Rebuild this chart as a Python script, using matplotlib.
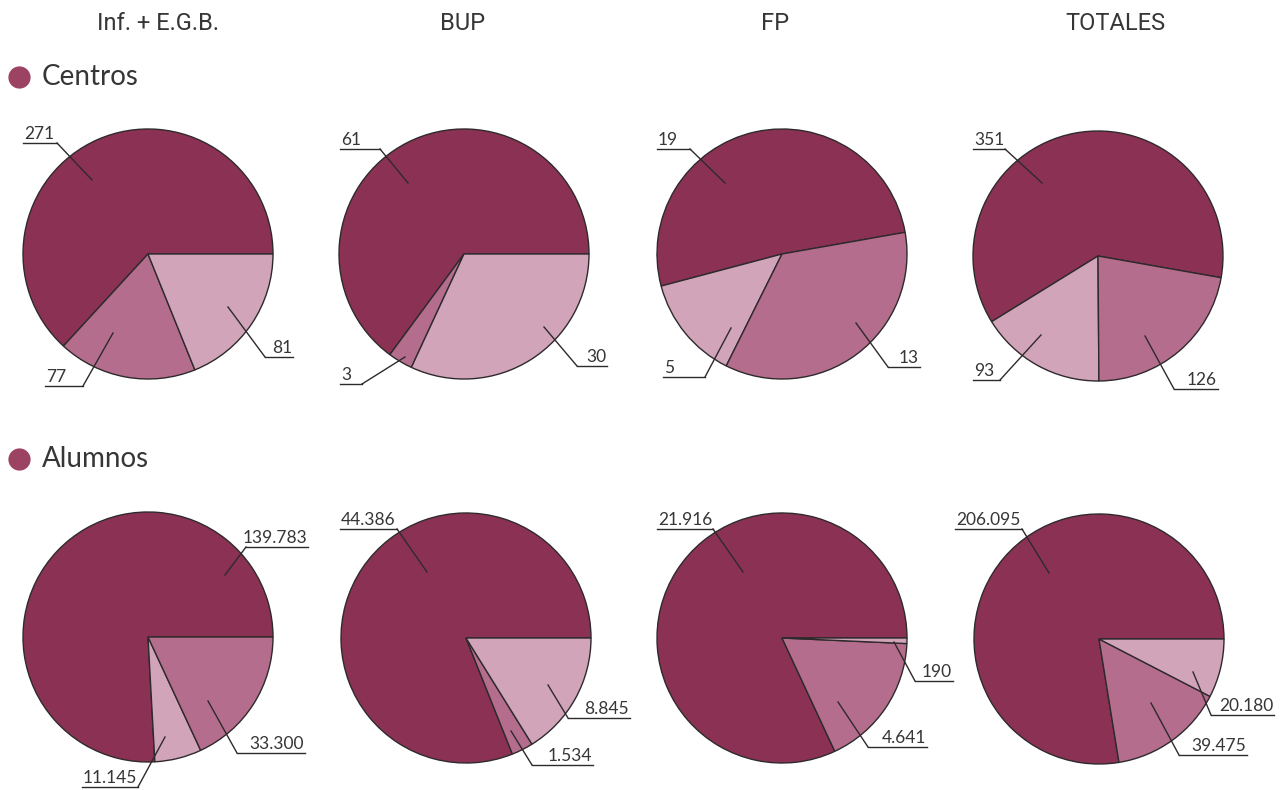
import matplotlib
matplotlib.use('Agg')
import matplotlib.pyplot as plt

# datos (orden de dibujo, sentido antihorario)
headers = ['Inf. + E.G.B.', 'BUP', 'FP', 'TOTALES']
row_names = ['Centros', 'Alumnos']

centros_inf = [271, 77, 81]
centros_bup = [61, 3, 30]
centros_fp = [19, 5, 13]
centros_tot = [351, 93, 126]

alumnos_inf = [139783, 11145, 33300]
alumnos_bup = [44386, 1534, 8845]
alumnos_fp = [21916, 4641, 190]
alumnos_tot = [206095, 39475, 20180]

W, H = 1287, 790
DARK, MED, LIGHT = '#8b3254', '#b46d8c', '#d2a4b9'
EDGE = '#2e2a2c'
TXT = '#363636'

def Y(y):
    return H - y

def fmt(v):
    return f'{v:,}'.replace(',', '.')

# pies: valores, colores, angulo inicial, centro (px), etiquetas
# etiqueta: (x0 subrayado, x1 subrayado, y subrayado, lado del conector, punta)
pies = [
    (centros_inf, [DARK, MED, LIGHT], 0, (148, 254),
     [(23, 57, 143, 'r', (92, 180)), (45, 83, 386, 'r', (113, 333)), (265, 293, 357, 'l', (228, 307))]),
    (centros_bup, [DARK, MED, LIGHT], 0, (464, 254),
     [(340, 380, 149, 'r', (408, 183)), (340, 362, 384, 'r', (405, 357)), (577, 607, 366, 'l', (544, 327))]),
    (centros_fp, [DARK, LIGHT, MED], 10, (782, 254),
     [(657, 690, 149, 'r', (725, 183)), (663, 705, 377, 'r', (731, 328)), (888, 920, 367, 'l', (856, 323))]),
    (centros_tot, [DARK, LIGHT, MED], -10, (1098, 256),
     [(973, 1005, 149, 'r', (1042, 183)), (973, 1000, 380, 'r', (1041, 335)), (1174, 1218, 389, 'l', (1145, 336))]),
    (alumnos_inf, [DARK, LIGHT, MED], 0, (148, 637),
     [(246, 308, 547, 'l', (225, 575)), (82, 138, 787, 'r', (165, 737)), (237, 305, 753, 'l', (208, 701))]),
    (alumnos_bup, [DARK, MED, LIGHT], 0, (466, 638),
     [(340, 397, 529, 'r', (427, 572)), (532, 593, 765, 'l', (511, 731)), (568, 630, 718, 'l', (548, 685))]),
    (alumnos_fp, [DARK, MED, LIGHT], 0, (782, 638),
     [(657, 713, 529, 'r', (743, 572)), (868, 927, 747, 'l', (838, 702)), (915, 953, 681, 'l', (894, 642))]),
    (alumnos_tot, [DARK, MED, LIGHT], 0, (1099, 639),
     [(955, 1022, 529, 'r', (1049, 573)), (1179, 1247, 755, 'l', (1151, 703)), (1211, 1274, 715, 'l', (1193, 672))]),
]

fig = plt.figure(figsize=(W / 100, H / 100), dpi=100)
fig.patch.set_facecolor('white')
ax = fig.add_axes([0, 0, 1, 1])

R = 125
for vals, cols, start, (cx, cy), labs in pies:
    ax.pie(vals, colors=cols, startangle=start, counterclock=True,
           center=(cx, Y(cy)), radius=R,
           wedgeprops=dict(edgecolor=EDGE, linewidth=1.0))
    for v, (x0, x1, uy, side, tip) in zip(vals, labs):
        ax.plot([x0, x1], [Y(uy), Y(uy)], color=EDGE, lw=1.0)
        sx = x1 if side == 'r' else x0
        ax.plot([sx, tip[0]], [Y(uy), Y(tip[1])], color=EDGE, lw=1.0)
        if side == 'r':
            ax.text(x0 + 1, Y(uy - 4), fmt(v), ha='left', va='baseline',
                    fontsize=12.5, color=TXT, family=['Lato', 'DejaVu Sans'])
        else:
            ax.text(x1 - 1, Y(uy - 4), fmt(v), ha='right', va='baseline',
                    fontsize=12.5, color=TXT, family=['Lato', 'DejaVu Sans'])

# cabeceras
for hx, h in zip([158, 463, 775, 1115], headers):
    ax.text(hx, Y(23), h, ha='center', va='center', fontsize=17, color=TXT,
            family=['Liberation Sans Narrow', 'Roboto', 'DejaVu Sans'])

# titulos de fila
for ry, name in zip([77, 459], row_names):
    ax.plot([19], [Y(ry)], 'o', ms=16, color='#9c4262', mec='none')
    ax.text(42, Y(ry), name, ha='left', va='center', fontsize=20, color=TXT,
            family=['Lato', 'DejaVu Sans'])

ax.set_xlim(0, W)
ax.set_ylim(0, H)
ax.set_aspect('equal')
ax.axis('off')

fig.savefig('out.png', dpi=100, facecolor='white')
